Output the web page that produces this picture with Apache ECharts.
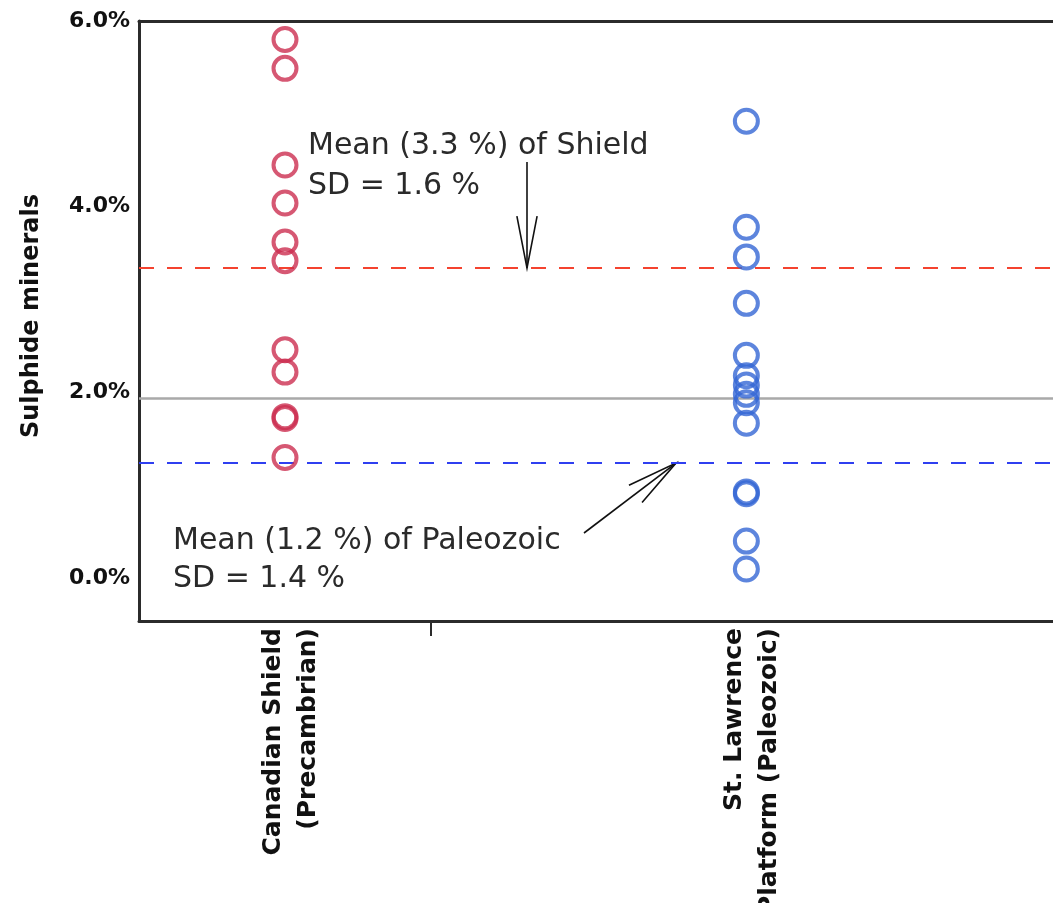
<!DOCTYPE html>
<html>
<head>
<meta charset="utf-8">
<script src="https://cdn.jsdelivr.net/npm/echarts@6/dist/echarts.min.js"></script>
<style>
html,body{margin:0;padding:0;background:#fff;}
#main{width:1053px;height:903px;}
</style>
</head>
<body>
<div id="main"></div>
<script>
// ---- data ----
const categories = ['Canadian Shield\n(Precambrian)', 'St. Lawrence\nPlatform (Paleozoic)'];
const shieldValues = [5.80, 5.49, 4.45, 4.04, 3.62, 3.42, 2.46, 2.22, 1.74, 1.72, 1.30];
const paleozoicValues = [4.92, 3.78, 3.46, 2.96, 2.40, 2.18, 2.08, 1.98, 1.89, 1.67, 0.93, 0.91, 0.40, 0.10];
const meanShield = 3.34;
const meanPaleozoic = 1.24;
const referenceLine = 1.94;
const yTickValues = [0, 2, 4, 6];
const annotationShield = ['Mean (3.3 %) of Shield', 'SD = 1.6 %'];
const annotationPaleozoic = ['Mean (1.2 %) of Paleozoic', 'SD = 1.4 %'];

// ---- layout (axis units along a hidden value x axis) ----
const catX = [1, 4.16];
const labelX = [1.038, 4.2];
const sepX = [2];
const X_MAX = 914 / 146;

const chart = echarts.init(document.getElementById('main'), null, {renderer: 'canvas'});

const redC = '#cc2e50', blueC = '#3566d4';
const axisC = '#2b2b2b';
function pts(x, arr){ return arr.map(v => [x, v]); }

function arrowHead(tip, tail, len, ang){
  const dx = tail[0]-tip[0], dy = tail[1]-tip[1];
  const L = Math.hypot(dx, dy);
  const ux = dx/L, uy = dy/L;
  const a = ang*Math.PI/180;
  const r = (c, s) => [tip[0] + len*(ux*c - uy*s), tip[1] + len*(uy*c + ux*s)];
  return [r(Math.cos(a), Math.sin(a)), tip, r(Math.cos(a), -Math.sin(a))];
}

const txtStyle = {fontFamily: 'DejaVu Sans', fontSize: 30, fill: '#2a2a2a'};

const option = {
  animation: false,
  backgroundColor: '#fff',
  grid: {left: 139, top: 21, width: 914, height: 600, show: false, containLabel: false, outerBoundsMode: 'none'},
  xAxis: [
    {
      type: 'value', min: 0, max: X_MAX, position: 'bottom',
      splitLine: {show: false},
      axisLine: {show: true, onZero: false, lineStyle: {color: axisC, width: 3}},
      axisTick: {show: true, customValues: sepX, length: 15, lineStyle: {color: axisC, width: 2}},
      axisLabel: {
        show: true, customValues: labelX, rotate: 90, margin: 7,
        fontFamily: 'DejaVu Sans', fontWeight: 'bold', fontSize: 25, color: '#111', lineHeight: 35,
        formatter: function(v){
          let best = 0, d = 1e9;
          labelX.forEach((x, i) => { if (Math.abs(x - v) < d) { d = Math.abs(x - v); best = i; } });
          return categories[best];
        }
      }
    },
    {
      type: 'value', min: 0, max: X_MAX, position: 'top',
      splitLine: {show: false},
      axisLine: {show: true, onZero: false, lineStyle: {color: axisC, width: 3}},
      axisTick: {show: false}, axisLabel: {show: false}
    }
  ],
  yAxis: {
    type: 'value', min: -0.46, max: 6.0,
    name: 'Sulphide minerals', nameLocation: 'middle', nameGap: 95, nameRotate: 90,
    nameTextStyle: {fontFamily: 'DejaVu Sans', fontWeight: 'bold', fontSize: 24, color: '#111', padding: [0, 0, 0, 10]},
    splitLine: {show: false},
    axisLine: {show: true, onZero: false, lineStyle: {color: axisC, width: 3}},
    axisTick: {show: false},
    axisLabel: {
      customValues: yTickValues, margin: 9,
      fontFamily: 'DejaVu Sans', fontWeight: 'bold', fontSize: 22, color: '#111',
      formatter: v => v.toFixed(1) + '%'
    }
  },
  series: [
    {
      type: 'scatter', name: 'Shield', data: pts(catX[0], shieldValues),
      symbol: 'circle', symbolSize: 23,
      itemStyle: {color: 'rgba(0,0,0,0)', borderColor: redC, borderWidth: 4},
      emphasis: {disabled: true}, z: 5,
      markLine: {
        silent: true, symbol: 'none', label: {show: false},
        data: [
          {yAxis: meanShield, lineStyle: {color: '#f4432f', type: [15, 13], width: 2}},
          {yAxis: meanPaleozoic, lineStyle: {color: '#2f3ff0', type: [15, 13], width: 2}},
          {yAxis: referenceLine, lineStyle: {color: '#a9a9a9', type: 'solid', width: 2.5}}
        ]
      }
    },
    {
      type: 'scatter', name: 'Paleozoic', data: pts(catX[1], paleozoicValues),
      symbol: 'circle', symbolSize: 23,
      itemStyle: {color: 'rgba(0,0,0,0)', borderColor: blueC, borderWidth: 4},
      emphasis: {disabled: true}, z: 5
    }
  ]
};
chart.setOption(option);

// annotations
const tip1 = [527, chart.convertToPixel({gridIndex: 0}, [0, meanShield])[1]];
const tail1 = [527, 162];
const tip2 = [676, chart.convertToPixel({gridIndex: 0}, [0, meanPaleozoic])[1]];
const tail2 = [584, 533];
const lineSt = {stroke: '#111', lineWidth: 1.6};
chart.setOption({
  graphic: [
    {type: 'text', left: 308, top: 131, style: Object.assign({text: annotationShield[0]}, txtStyle)},
    {type: 'text', left: 308, top: 171, style: Object.assign({text: annotationShield[1]}, txtStyle)},
    {type: 'text', left: 173, top: 526, style: Object.assign({text: annotationPaleozoic[0]}, txtStyle)},
    {type: 'text', left: 173, top: 564, style: Object.assign({text: annotationPaleozoic[1]}, txtStyle)},
    {type: 'polyline', shape: {points: [tail1, tip1]}, style: lineSt},
    {type: 'polyline', shape: {points: arrowHead(tip1, tail1, 53, 11)}, style: Object.assign({fill: null}, lineSt)},
    {type: 'polyline', shape: {points: [tail2, tip2]}, style: lineSt},
    {type: 'polyline', shape: {points: arrowHead(tip2, tail2, 52, 12)}, style: Object.assign({fill: null}, lineSt)}
  ]
});
</script>
</body>
</html>
